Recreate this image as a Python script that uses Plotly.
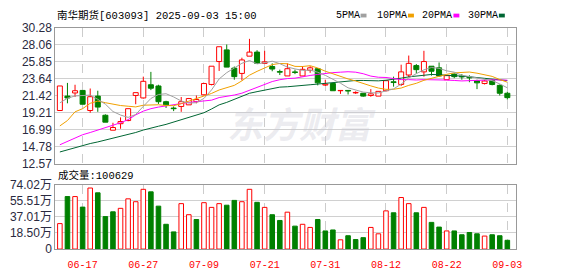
import plotly.graph_objects as go

W, H = 578, 276

dates = ["06-12","06-13","06-16","06-17","06-18","06-19","06-20","06-23","06-24","06-25","06-26","06-27","06-30",
         "07-01","07-02","07-03","07-04","07-07","07-08","07-09","07-10","07-11","07-14","07-15","07-16","07-17","07-18",
         "07-21","07-22","07-23","07-24","07-25","07-28","07-29","07-30","07-31",
         "08-01","08-04","08-05","08-06","08-07","08-08","08-11","08-12","08-13","08-14","08-15","08-18","08-19","08-20",
         "08-21","08-22","08-25","08-26","08-27","08-28","08-29","09-01","09-02","09-03"]

opens = [19.50,21.38,21.79,22.12,19.50,21.38,18.88,16.93,17.78,18.19,21.46,21.14,22.86,22.70,20.65,19.82,20.03,20.24,20.65,21.55,
         22.90,25.89,27.41,25.03,24.34,26.59,27.12,25.65,25.24,24.58,24.01,24.54,24.01,24.75,24.95,22.82,23.02,22.08,22.12,21.80,
         21.75,21.46,21.38,22.08,23.25,22.90,24.13,25.36,24.54,25.28,25.07,23.52,24.25,23.96,23.84,23.39,23.02,23.43,22.78,21.75]
highs = [22.70,23.10,22.86,22.12,22.37,22.08,19.00,17.90,18.60,19.74,21.83,23.92,24.54,22.86,20.77,20.03,21.26,21.14,21.46,23.10,
         25.28,27.82,28.11,25.24,26.39,28.85,27.37,27.29,25.65,24.83,25.65,24.83,25.28,25.28,25.03,23.52,23.10,22.12,22.12,22.00,
         21.79,22.29,22.00,23.39,23.92,25.48,26.67,25.56,27.29,25.28,25.77,24.13,24.34,24.25,24.10,23.52,23.52,23.60,22.90,21.96]
lows = [19.50,20.44,21.26,20.32,19.21,19.33,17.98,16.93,17.12,18.10,20.32,21.06,22.16,20.36,19.83,19.42,19.33,20.24,20.44,21.46,
        22.78,24.66,25.16,23.52,23.43,26.59,25.56,25.56,24.62,24.13,24.01,24.25,24.01,24.42,22.78,22.70,22.08,21.67,21.59,21.67,
        21.30,21.30,21.38,22.00,22.61,22.70,23.84,24.34,23.92,24.05,23.92,23.52,23.72,23.52,23.19,22.29,22.90,22.78,21.46,20.93]
closes = [22.70,21.14,22.08,20.32,21.30,19.95,17.98,17.28,18.06,19.74,21.83,23.31,22.41,20.65,20.24,19.74,20.65,21.06,20.93,23.02,
          25.28,27.82,25.16,23.92,26.10,27.12,25.65,25.85,24.91,24.50,24.95,24.46,24.87,25.07,23.11,22.94,22.08,22.12,22.04,21.86,
          21.38,21.67,22.00,23.39,23.15,24.54,25.65,24.83,25.89,24.62,24.01,24.05,23.92,23.88,23.76,23.11,23.35,22.90,21.75,21.18]

ma5 = [20.50,21.10,21.40,21.45,21.51,20.96,20.33,19.37,18.91,18.60,18.98,20.04,21.07,21.59,21.69,21.27,20.74,20.47,20.52,21.08,
       22.19,23.62,24.44,25.04,25.66,26.02,25.59,25.73,25.93,25.61,25.17,24.93,24.74,24.77,24.49,24.09,23.61,23.06,22.46,22.21,
       21.90,21.81,21.79,22.06,22.32,22.95,23.75,24.31,24.81,25.11,25.00,24.68,24.50,24.10,23.92,23.74,23.60,23.40,22.97,22.46]
ma10 = [17.49,18.19,19.33,19.74,20.44,20.73,20.52,20.32,20.15,20.06,19.97,20.19,20.22,20.25,20.15,20.13,20.39,20.77,21.06,21.39,
        21.73,22.18,22.46,22.78,23.37,24.11,24.61,25.09,25.49,25.64,25.60,25.26,25.24,25.35,25.05,24.63,24.27,23.90,23.62,23.35,
        23.00,22.71,22.43,22.26,22.27,22.43,22.78,23.05,23.44,23.72,23.98,24.22,24.41,24.46,24.52,24.37,24.14,23.95,23.54,23.19]
ma20 = [15.03,15.48,15.93,16.34,16.63,16.95,17.28,17.53,17.90,18.31,18.93,19.42,19.74,19.95,20.11,20.32,20.44,20.56,20.65,20.73,
        20.85,21.19,21.34,21.52,21.76,22.12,22.50,22.93,23.28,23.52,23.67,23.72,23.85,24.07,24.21,24.37,24.44,24.50,24.56,24.50,
        24.30,23.99,23.84,23.81,23.66,23.53,23.53,23.48,23.53,23.54,23.49,23.47,23.42,23.36,23.40,23.40,23.46,23.50,23.49,23.46]
ma30 = [14.09,14.37,14.70,14.90,15.19,15.40,15.64,15.81,16.05,16.34,16.63,16.95,17.16,17.45,17.69,17.98,18.27,18.60,18.88,19.21,
        19.70,20.24,20.56,20.97,21.38,21.75,21.96,22.16,22.41,22.55,22.60,22.66,22.74,22.86,22.95,23.03,23.12,23.26,23.36,23.42,
        23.42,23.38,23.37,23.45,23.56,23.72,23.89,24.02,24.15,24.20,24.17,24.07,24.03,24.00,23.93,23.80,23.70,23.60,23.50,23.40]

volumes = [29.2,60.2,60.2,48.1,70.0,64.5,37.2,42.7,46.7,57.6,54.3,68.5,65.6,49.2,28.4,19.7,52.1,39.4,33.9,53.2,
           47.8,52.1,50.3,55.8,54.3,68.5,53.6,47.8,39.4,32.8,42.3,26.3,28.4,24.8,33.9,20.8,21.9,10.6,15.3,10.9,
           13.1,24.8,17.5,43.8,41.6,59.1,52.1,41.6,47.8,30.6,25.2,20.8,20.8,16.4,19.0,17.5,14.9,16.4,15.3,10.06]

price_ticks = [12.57,14.78,16.99,19.21,21.42,23.64,25.85,28.06,30.28]
vol_ticks = [0,18.50,37.01,55.51,74.02]
vol_tick_text = ["0","18.50万","37.01万","55.51万","74.02万"]
tick_dates = ["06-17","06-27","07-09","07-21","07-31","08-12","08-22","09-03"]
title_text = "南华期货[603093] 2025-09-03 15:00"
vol_title = "成交量:100629"
ma_names = ["5PMA","10PMA","20PMA","30PMA"]

RED = "#ff0000"
GREEN = "#008000"
ma_colors = ["#a0a0a0", "#f0a000", "#ff00ff", "#006633"]

n = len(dates)
idx = list(range(n))
up = [c >= o for o, c in zip(opens, closes)]

fig = go.Figure()

# candle bodies
bases = [min(o, c) for o, c in zip(opens, closes)]
heights = [max(abs(c - o), 0.03) for o, c in zip(opens, closes)]
fig.add_trace(go.Bar(x=idx, y=heights, base=bases, width=0.66, xaxis="x", yaxis="y",
                     marker=dict(color=["white" if u else GREEN for u in up],
                                 line=dict(color=[RED if u else GREEN for u in up], width=1)),
                     hoverinfo="skip", showlegend=False))

# wicks
for col, flag in ((RED, True), (GREEN, False)):
    xs, ys = [], []
    for i in idx:
        if up[i] != flag:
            continue
        top = max(opens[i], closes[i]); bot = min(opens[i], closes[i])
        if highs[i] > top:
            xs += [i, i, None]; ys += [top, highs[i], None]
        if lows[i] < bot:
            xs += [i, i, None]; ys += [bot, lows[i], None]
    fig.add_trace(go.Scatter(x=xs, y=ys, mode="lines", line=dict(color=col, width=1),
                             xaxis="x", yaxis="y", hoverinfo="skip", showlegend=False))

# moving averages
for vals, col in zip([ma30, ma20, ma10, ma5], ma_colors[::-1]):
    fig.add_trace(go.Scatter(x=idx, y=vals, mode="lines", line=dict(color=col, width=1),
                             xaxis="x", yaxis="y", hoverinfo="skip", showlegend=False))

# volume
vol_up = [up[0]] + [closes[i] >= closes[i - 1] for i in range(1, n)]
fig.add_trace(go.Bar(x=idx, y=volumes, width=0.6, xaxis="x2", yaxis="y2",
                     marker=dict(color=["white" if u else GREEN for u in vol_up],
                                 line=dict(color=[RED if u else GREEN for u in vol_up], width=1)),
                     hoverinfo="skip", showlegend=False))

XD = [56 / W, 522 / W]
def py(p):
    return 1 - p / H

tickvals = [dates.index(d) for d in tick_dates]
axis_font = dict(family="Liberation Sans, Noto Sans CJK SC", size=12, color="#2a2a40")
common_x = dict(domain=XD, range=[-0.6, 60.1], tickvals=tickvals, showgrid=True, gridcolor="#cccccc",
                griddash="dash", gridwidth=1, zeroline=False, showline=True, linecolor="#999999",
                mirror=True, ticks="", fixedrange=True)
fig.update_layout(
    width=W, height=H, margin=dict(l=0, r=0, t=0, b=0),
    paper_bgcolor="white", plot_bgcolor="white", barmode="overlay", showlegend=False,
    xaxis=dict(**common_x, anchor="y", showticklabels=False),
    xaxis2=dict(**common_x, anchor="y2", ticktext=tick_dates, ticklabelstandoff=6,
                tickfont=dict(family="Liberation Mono", size=10, color=RED)),
    yaxis=dict(domain=[py(165), py(22)], range=[12.57, 30.28], tickvals=price_ticks,
               ticktext=[f"{v:.2f}" for v in price_ticks], showgrid=True, gridcolor="#d0d0d0",
               zeroline=False, showline=True, linecolor="#999999", mirror=True, ticks="",
               tickfont=axis_font, anchor="x"),
    yaxis2=dict(domain=[py(255), py(187)], range=[0, 74.02], tickvals=vol_ticks, ticktext=vol_tick_text,
                showgrid=True, gridcolor="#d0d0d0", zeroline=False, showline=True, linecolor="#999999",
                mirror=True, ticks="", tickfont=axis_font, anchor="x2"),
)

ann = []
ann.append(dict(text=title_text, x=56 / W, y=py(8.5), xref="paper", yref="paper", xanchor="left",
                yanchor="middle", showarrow=False,
                font=dict(family="Liberation Mono, Noto Sans CJK SC", size=10.5, color="#000000")))
ann.append(dict(text=vol_title, x=57 / W, y=py(178), xref="paper", yref="paper", xanchor="left",
                yanchor="middle", showarrow=False,
                font=dict(family="Liberation Mono, Noto Sans CJK SC", size=10.5, color="#000000")))
# watermark
ann.append(dict(text="<i><b>东方财富</b></i>", x=305 / W, y=py(92), xref="paper", yref="paper",
                showarrow=False, font=dict(family="Noto Sans CJK SC", size=36, color="rgba(200,200,212,0.35)")))

leg_x = [338, 380, 425, 472]
sq_x = [365, 413, 459, 505]
shapes = []
for name, lx, sx, col in zip(ma_names, leg_x, sq_x, ma_colors):
    ann.append(dict(text=name, x=lx / W, y=py(8.5), xref="paper", yref="paper", xanchor="left",
                    yanchor="middle", showarrow=False,
                    font=dict(family="Liberation Mono", size=10, color="#000000")))
    shapes.append(dict(type="rect", xref="paper", yref="paper", x0=sx / W, x1=(sx + 6) / W,
                       y0=py(11), y1=py(7), fillcolor=col, line=dict(width=0)))
fig.update_layout(annotations=ann, shapes=shapes)

fig.write_html("out.html")
